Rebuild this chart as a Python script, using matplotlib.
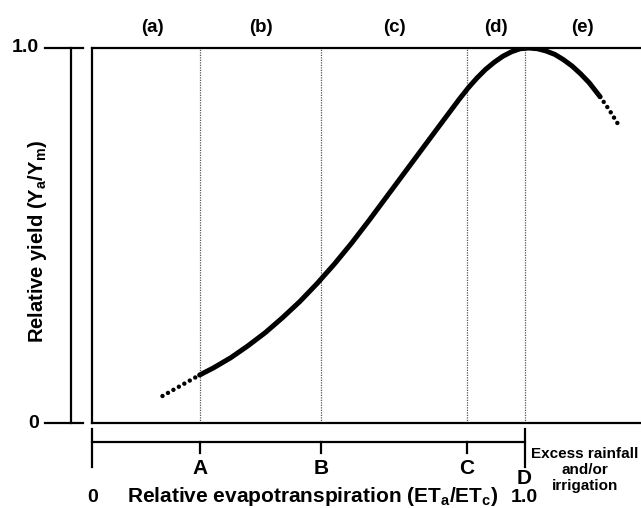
import matplotlib
matplotlib.use("Agg")
import matplotlib.pyplot as plt

plt.rcParams['font.family'] = ['Liberation Sans', 'DejaVu Sans']
plt.rcParams['font.weight'] = 'bold'
plt.rcParams['mathtext.fontset'] = 'custom'
plt.rcParams['mathtext.rm'] = 'Liberation Sans:bold'
plt.rcParams['mathtext.it'] = 'Liberation Sans:bold'
plt.rcParams['mathtext.bf'] = 'Liberation Sans:bold'

# ---- data ----
stage_names = ["A", "B", "C", "D"]
stage_x = [0.248, 0.530, 0.866, 1.0]
region_labels = ["(a)", "(b)", "(c)", "(d)", "(e)"]
region_x = [0.138, 0.389, 0.698, 0.933, 1.133]

# solid yield curve (relative ET, relative yield)
curve_x = [0.248, 0.28, 0.32, 0.36, 0.40, 0.44, 0.48, 0.52, 0.56, 0.60, 0.64,
           0.68, 0.72, 0.76, 0.80, 0.85, 0.87, 0.89, 0.91, 0.93, 0.95, 0.97,
           0.99, 1.01, 1.03, 1.05, 1.07, 1.09, 1.11, 1.13, 1.15, 1.175]
curve_y = [0.128, 0.147, 0.174, 0.206, 0.241, 0.281, 0.324, 0.372, 0.424, 0.480, 0.540,
           0.602, 0.664, 0.726, 0.788, 0.865, 0.894, 0.920, 0.943, 0.962, 0.978, 0.990,
           0.998, 1.0, 0.998, 0.992, 0.983, 0.969, 0.952, 0.931, 0.907, 0.870]
# dotted extensions
left_ext_x = [0.162, 0.248]
left_ext_y = [0.072, 0.128]
right_ext_x = [1.175, 1.195, 1.215]
right_ext_y = [0.870, 0.837, 0.800]

y_tick_vals = [0.0, 1.0]
y_tick_labels = ["0", "1.0"]

W, H = 641, 508
fig = plt.figure(figsize=(W / 100, H / 100), dpi=100)
x0_px, ybot_px, ytop_px = 92.5, 423, 48
unit = 432.0
ax = fig.add_axes([x0_px / W, (H - ybot_px) / H, (W - x0_px) / W, (ybot_px - ytop_px) / H])
ax.set_xlim(0, (W - x0_px) / unit)
ax.set_ylim(0, 1)
for s in ["left", "top", "bottom"]:
    ax.spines[s].set_linewidth(1.6)
    ax.spines[s].set_color("black")
ax.spines["right"].set_visible(False)
ax.set_xticks([])
ax.set_yticks([])

# dotted vertical stage lines
for xs in stage_x:
    ax.plot([xs, xs], [0, 1], color="#555555", lw=0.9, ls=(0, (1, 1)), zorder=1)

# curve
ax.plot(curve_x, curve_y, color="black", lw=3.6, solid_capstyle="round",
        solid_joinstyle="round", zorder=3)
for ex, ey in [(left_ext_x, left_ext_y), (right_ext_x, right_ext_y)]:
    ax.plot(ex, ey, color="black", lw=3.2, ls=(0, (0.01, 1.4)),
            dash_capstyle="round", zorder=3, clip_on=False)

# region labels
for lab, rx in zip(region_labels, region_x):
    ax.text(rx, 1 + 20 / 375, lab, ha="center", va="center", fontsize=13.5,
            fontweight="bold", clip_on=False)

def px_y(py):
    return (ybot_px - py) / 375.0

# separate y scale on the left
yaxis_x = (71 - x0_px) / unit
dash_l = (45 - x0_px) / unit
dash_r = (83 - x0_px) / unit
ax.plot([yaxis_x, yaxis_x], [0, 1], color="black", lw=1.6, clip_on=False)
for v, lab in zip(y_tick_vals, y_tick_labels):
    ax.plot([dash_l, dash_r], [v, v], color="black", lw=1.6, clip_on=False)
    ax.text(dash_l - 6 / unit, v, lab, ha="right", va="center", fontsize=14,
            fontweight="bold", clip_on=False)
ax.text((38 - x0_px) / unit, px_y(242),
        r"Relative yield (Y$_\mathregular{a}$/Y$_\mathregular{m}$)",
        rotation=90, ha="center", va="center", fontsize=14.5, fontweight="bold",
        clip_on=False)

# bottom relative ET scale
by = px_y(442)
ax.plot([0, stage_x[-1]], [by, by], color="black", lw=1.6, clip_on=False)
for xs in [0.0, stage_x[-1]]:
    ax.plot([xs, xs], [px_y(429), px_y(467)], color="black", lw=1.6, clip_on=False)
for name, xs in zip(stage_names[:-1], stage_x[:-1]):
    ax.plot([xs, xs], [by, px_y(453)], color="black", lw=1.6, clip_on=False)
    ax.text(xs, px_y(468), name, ha="center", va="center", fontsize=15,
            fontweight="bold", clip_on=False)
ax.text(stage_x[-1], px_y(479), stage_names[-1], ha="center", va="center",
        fontsize=15, fontweight="bold", clip_on=False)
ax.text(0.0, px_y(497), "0", ha="center", va="center", fontsize=14,
        fontweight="bold", clip_on=False)
ax.text(stage_x[-1], px_y(498), "1.0", ha="center", va="center", fontsize=14,
        fontweight="bold", clip_on=False)
ax.text((127 - x0_px) / unit, px_y(496),
        r"Relative evapotranspiration (ET$_\mathregular{a}$/ET$_\mathregular{c}$)",
        ha="left", va="center", fontsize=15, fontweight="bold", clip_on=False)
ax.text((585 - x0_px) / unit, px_y(470), "Excess rainfall\nand/or\nirrigation",
        ha="center", va="center", fontsize=11, fontweight="bold",
        linespacing=1.2, clip_on=False)

fig.savefig("out.png", dpi=100)
